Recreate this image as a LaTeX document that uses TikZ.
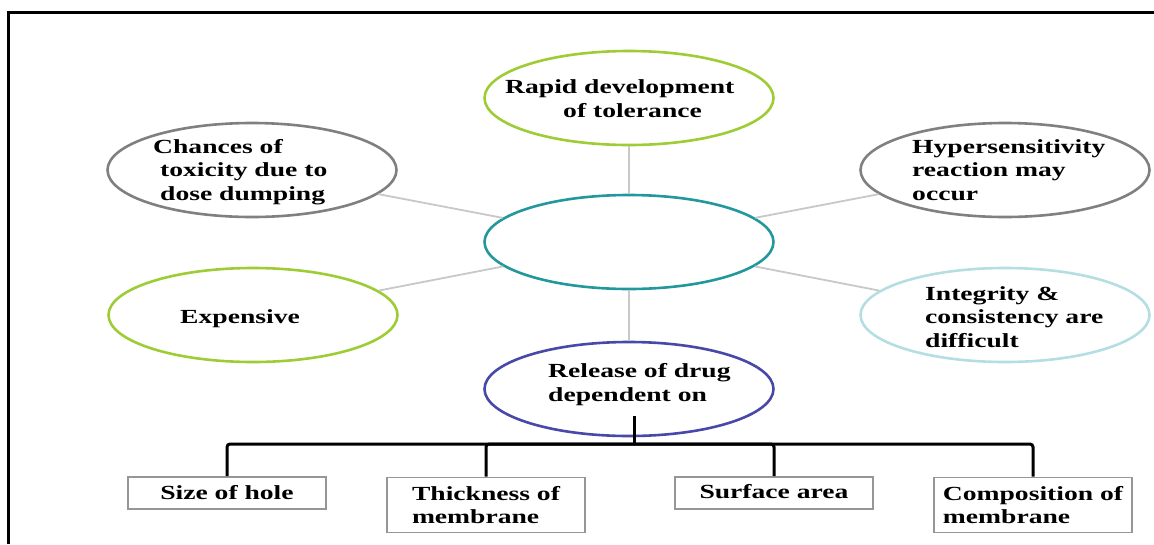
\documentclass[tikz,border=0pt]{standalone}
\usepackage{fontspec}
\setmainfont{Liberation Serif}[FakeStretch=1.38]
\usetikzlibrary{shapes.geometric}
\definecolor{ovgreen}{RGB}{158,204,52}
\definecolor{ovteal}{RGB}{34,152,156}
\definecolor{ovgray}{RGB}{128,128,128}
\definecolor{ovcyan}{RGB}{180,222,226}
\definecolor{ovblue}{RGB}{72,72,168}
\definecolor{spokegray}{RGB}{200,200,200}
\definecolor{boxgray}{RGB}{150,150,150}
\begin{document}
\begin{tikzpicture}[x=1pt,y=-1pt,
  oval/.style={ellipse, draw, line width=2.6pt, minimum width=289pt, minimum height=94pt, inner sep=0pt},
  txt/.style={font=\bfseries\fontsize{20}{23.5}\selectfont, inner sep=0pt, anchor=base west, align=left},
  spoke/.style={draw=spokegray, line width=1.8pt},
  boxnode/.style={draw=boxgray, line width=1.6pt, minimum width=198pt, inner sep=0pt,
    font=\bfseries\fontsize{20}{23.5}\selectfont, align=left},
  tree/.style={line width=3pt, rounded corners=3pt}]
\useasboundingbox (0,0) rectangle (1154,544);
% frame
\coordinate (fbl) at (8.5,544);
\coordinate (ftl) at (8.5,12);
\coordinate (ftr) at (1154,12);
\draw[line width=3pt] (fbl) -- (ftl) -- (ftr);
% ellipses
\node[oval, draw=ovteal] (core) at (629,242) {};
\node[oval, draw=ovgreen] (rapid) at (629,98) {};
\node[oval, draw=ovgray] (chances) at (252,170) {};
\node[oval, draw=ovgreen] (expensive) at (253,315) {};
\node[oval, draw=ovgray] (hyper) at (1005,170) {};
\node[oval, draw=ovcyan] (integrity) at (1005,315) {};
\node[oval, draw=ovblue] (release) at (629,389) {};
% spokes
\draw[spoke] (core) -- (rapid);
\draw[spoke] (core) -- (chances);
\draw[spoke] (core) -- (expensive);
\draw[spoke] (core) -- (hyper);
\draw[spoke] (core) -- (integrity);
\draw[spoke] (core) -- (release);
% texts (base anchor = baseline of last line)
\node[txt] (trapid) at (505,117) {Rapid development\\\hspace*{58pt}of tolerance};
\node[txt] (tchances) at (160,200) {\hspace*{-7pt}Chances of\\toxicity due to\\dose dumping};
\node[txt] (texp) at (180,323) {Expensive};
\node[txt] (thyper) at (912,200) {Hypersensitivity\\reaction may\\occur};
\node[txt] (tinteg) at (925,347) {Integrity \&\\consistency are\\difficult};
\node[txt] (trelease) at (548,401) {Release of drug\\dependent on};
% boxes
\node[boxnode, minimum height=32pt] (b1) at (227,493) {Size of hole};
\node[boxnode, minimum height=55pt] (b2) at (486,505) {Thickness of\\membrane};
\node[boxnode, minimum height=32pt] (b3) at (774,493) {\raisebox{4pt}{Surface area}};
\node[boxnode, minimum height=55pt] (b4) at (1033,505) {Composition of\\membrane};
% tree
\coordinate (trunk) at (634,416);
\coordinate (bar) at (634,444);
\draw[line width=3pt] (trunk) -- (bar);
\draw[tree] (bar) -| (b1.north);
\draw[tree] (bar) -| (b2.north);
\draw[tree] (bar) -| (b3.north);
\draw[tree] (bar) -| (b4.north);
\end{tikzpicture}
\end{document}
